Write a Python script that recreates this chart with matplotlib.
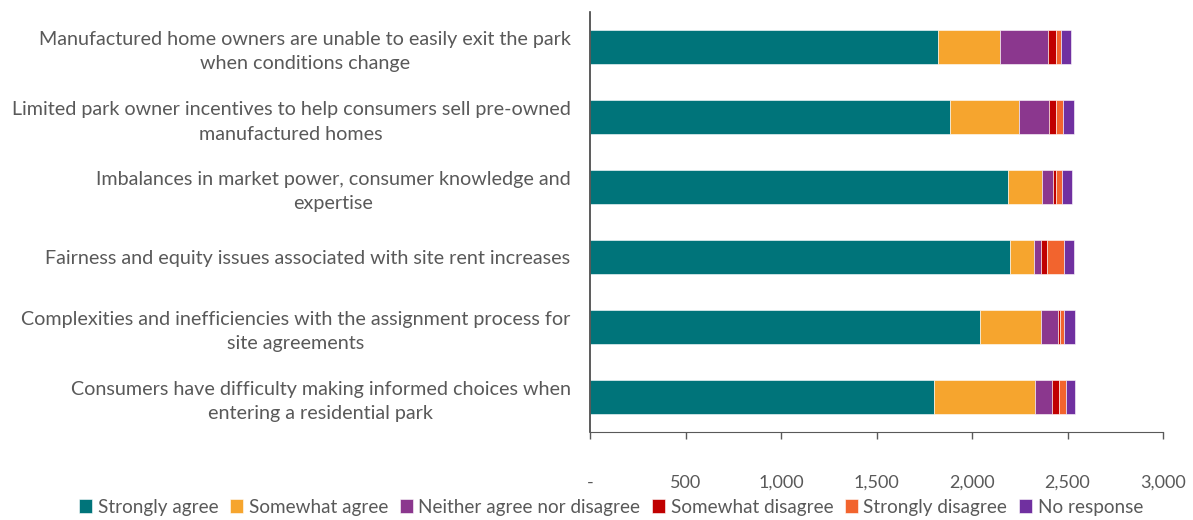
import matplotlib
matplotlib.use("Agg")
import matplotlib.pyplot as plt
from matplotlib.ticker import FuncFormatter, MultipleLocator

categories = [
    "Manufactured home owners are unable to easily exit the park\nwhen conditions change",
    "Limited park owner incentives to help consumers sell pre-owned\nmanufactured homes",
    "Imbalances in market power, consumer knowledge and\nexpertise",
    "Fairness and equity issues associated with site rent increases",
    "Complexities and inefficiencies with the assignment process for\nsite agreements",
    "Consumers have difficulty making informed choices when\nentering a residential park",
]

strongly_agree = [1821, 1886, 2188, 2200, 2043, 1802]
somewhat_agree = [326, 362, 181, 125, 319, 527]
neither = [253, 157, 57, 35, 90, 89]
somewhat_disagree = [40, 35, 13, 33, 11, 38]
strongly_disagree = [26, 35, 34, 88, 19, 35]
no_response = [53, 58, 53, 52, 56, 47]

series_names = ["Strongly agree", "Somewhat agree", "Neither agree nor disagree",
                "Somewhat disagree", "Strongly disagree", "No response"]
series_values = [strongly_agree, somewhat_agree, neither,
                 somewhat_disagree, strongly_disagree, no_response]
colors = ["#00747A", "#F6A52E", "#8B378E", "#C00000", "#F2642E", "#7030A0"]

plt.rcParams["font.family"] = ["Lato", "DejaVu Sans"]
text_color = "#595959"

fig = plt.figure(figsize=(11.93, 5.2), dpi=100)
ax = fig.add_axes([590 / 1193, 1 - 432 / 520, (1163 - 590) / 1193, (432 - 12) / 520])

ypos = list(range(len(categories)))
left = [0] * len(categories)
for name, vals, col in zip(series_names, series_values, colors):
    ax.barh(ypos, vals, left=left, height=0.49, color=col, label=name,
            edgecolor="white", linewidth=0.4)
    left = [l + v for l, v in zip(left, vals)]

ax.set_ylim(len(categories) - 0.5, -0.5)
ax.set_xlim(0, 3000)
ax.xaxis.set_major_locator(MultipleLocator(500))
ax.xaxis.set_major_formatter(FuncFormatter(lambda v, p: "-" if v == 0 else f"{int(v):,}"))

ax.set_yticks(ypos)
ax.set_yticklabels(categories)
for t in ax.get_yticklabels():
    t.set_multialignment("center")
    t.set_fontsize(14.2)
    t.set_linespacing(1.5)
    t.set_color(text_color)
ax.tick_params(axis="y", length=0, pad=14)
ax.tick_params(axis="x", length=5, width=1, color="#595959", labelsize=13,
               labelcolor=text_color, pad=26)

for s in ["top", "right"]:
    ax.spines[s].set_visible(False)
ax.spines["left"].set_color("#404040")
ax.spines["bottom"].set_color("#595959")
ax.spines["left"].set_linewidth(1.2)

handles, labels = ax.get_legend_handles_labels()
leg = fig.legend(handles, labels, loc="center", bbox_to_anchor=(611 / 1193, 1 - 507 / 520),
                 ncol=6, frameon=False, fontsize=13.6, handlelength=0.7, handleheight=0.7,
                 handletextpad=0.3, columnspacing=0.6, labelcolor=text_color)

fig.savefig("out.png", dpi=100)
